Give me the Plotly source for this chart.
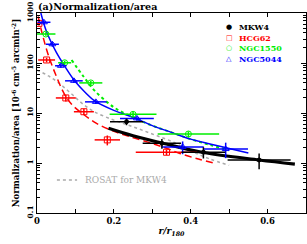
import plotly.graph_objects as go

# ---- data points (x = r/r180, y = normalization/area) ----
mkw4_x = [0.233, 0.325, 0.433, 0.578]
mkw4_y = [6.7, 2.48, 1.65, 1.15]
mkw4_xerr = [0.043, 0.05, 0.057, 0.082]
mkw4_yerr = [1.0, 0.55, 0.42, 0.4]

hcg62_x = [0.005, 0.025, 0.075, 0.122, 0.183, 0.337]
hcg62_y = [620, 115, 20, 10.6, 2.9, 1.64]
hcg62_xerr = [0.006, 0.022, 0.026, 0.026, 0.033, 0.08]
hcg62_yerr = [60, 12, 3, 1.5, 0.65, 0.2]

ngc1550_x = [0.023, 0.072, 0.14, 0.25, 0.394]
ngc1550_y = [380, 101, 40, 9.4, 3.8]
ngc1550_xerr = [0.025, 0.017, 0.03, 0.061, 0.08]
ngc1550_yerr = [30, 10, 4, 1.2, 0.5]

ngc5044_x = [0.018, 0.04, 0.062, 0.096, 0.153, 0.26, 0.379, 0.491]
ngc5044_y = [652, 237, 88, 44, 16.7, 7.8, 2.1, 1.9]
ngc5044_xerr = [0.017, 0.017, 0.015, 0.023, 0.028, 0.044, 0.055, 0.058]
ngc5044_yerr = [60, 25, 8, 4, 1.5, 0.8, 0.6, 0.65]

# ---- model curves ----
blue_cx = [0.01, 0.025, 0.05, 0.075, 0.1, 0.125, 0.15, 0.2, 0.25, 0.3, 0.35, 0.4, 0.45, 0.5, 0.55]
blue_cy = [1000, 420, 165, 80, 42, 26, 17.5, 11.3, 8.2, 5.6, 4.1, 3.0, 2.4, 1.95, 1.58]

green_cx = [0.09, 0.12, 0.15, 0.2, 0.25, 0.3, 0.35, 0.4, 0.45, 0.5]
green_cy = [115, 55, 28, 13, 8.2, 5.6, 4.1, 3.0, 2.3, 1.8]

red_cx = [0.003, 0.015, 0.03, 0.05, 0.07, 0.09, 0.12, 0.155, 0.2, 0.242, 0.3, 0.337, 0.372, 0.42, 0.46]
red_cy = [850, 350, 140, 55, 25, 15, 9.5, 6.2, 4.3, 3.36, 2.45, 1.97, 1.55, 1.2, 1.0]

black_cx = [0.186, 0.25, 0.33, 0.433, 0.578, 0.671]
black_cy = [4.94, 3.5, 2.45, 1.62, 1.15, 0.95]

rosat_cx = [0.0, 0.03, 0.06, 0.09, 0.12, 0.15, 0.2, 0.25, 0.3, 0.35, 0.4, 0.45, 0.5]
rosat_cy = [72, 55, 38, 24, 15, 10.5, 7.2, 5.3, 3.8, 2.7, 1.75, 1.2, 0.9]

x_tickvals = [0, 0.2, 0.4, 0.6]
x_ticktext = ["0", "0.2", "0.4", "0.6"]
y_tickvals = [0.1, 1, 10, 100, 1000]
y_ticktext = ["0.1", "1", "10", "100", "1000"]

legend_names = ["MKW4", "HCG62", "NGC1550", "NGC5044"]
legend_symbols = ["●", "□", "○", "△"]
legend_colors = ["black", "#ff0000", "#00ee00", "#0000ff"]

FONT = "DejaVu Serif"

fig = go.Figure()

# curves
fig.add_trace(go.Scatter(x=rosat_cx, y=rosat_cy, mode="lines", line=dict(color="#aaaaaa", width=1.5, dash="dot", shape="spline")))
fig.add_trace(go.Scatter(x=red_cx, y=red_cy, mode="lines", line=dict(color="#ff0000", width=1.5, dash="7px,4px", shape="spline")))
fig.add_trace(go.Scatter(x=green_cx, y=green_cy, mode="lines", line=dict(color="#00ee00", width=2, dash="dot", shape="spline")))
fig.add_trace(go.Scatter(x=blue_cx, y=blue_cy, mode="lines", line=dict(color="#0000ff", width=1.5, shape="spline")))
fig.add_trace(go.Scatter(x=black_cx, y=black_cy, mode="lines", line=dict(color="black", width=3.2, shape="spline")))

def pts(x, y, xe, ye, color, symbol, size):
    return go.Scatter(
        x=x, y=y, mode="markers",
        marker=dict(symbol=symbol, size=size, color=color, line=dict(color=color, width=1)),
        error_x=dict(type="data", array=xe, color=color, thickness=1.5, width=0),
        error_y=dict(type="data", array=ye, color=color, thickness=1.5, width=0),
    )

fig.add_trace(pts(hcg62_x, hcg62_y, hcg62_xerr, hcg62_yerr, "#ff0000", "square-open", 6))
fig.add_trace(pts(ngc1550_x, ngc1550_y, ngc1550_xerr, ngc1550_yerr, "#00ee00", "circle-open", 6))
fig.add_trace(pts(ngc5044_x, ngc5044_y, ngc5044_xerr, ngc5044_yerr, "#0000ff", "triangle-up-open", 6))
fig.add_trace(pts(mkw4_x, mkw4_y, mkw4_xerr, mkw4_yerr, "black", "circle", 4))

# legend (manual, compact)
rows_y = [0.93, 0.8775, 0.825, 0.77]
annotations = []
for name, sym, col, yy in zip(legend_names, legend_symbols, legend_colors, rows_y):
    annotations.append(dict(xref="paper", yref="paper", x=0.714, y=yy, text=sym, showarrow=False,
                            xanchor="center", yanchor="middle", font=dict(family=FONT, size=7, color=col)))
    annotations.append(dict(xref="paper", yref="paper", x=0.743, y=yy, text="<b>" + name + "</b>", showarrow=False,
                            xanchor="left", yanchor="middle", font=dict(family=FONT, size=8, color=col)))

annotations.append(dict(xref="paper", yref="paper", x=0.17, y=0.165, text="ROSAT for MKW4", showarrow=False,
                        xanchor="left", yanchor="middle", font=dict(family=FONT, size=9, color="#aaaaaa")))
annotations.append(dict(xref="paper", yref="paper", x=-0.005, y=1.035, text="<b>(a)Normalization/area</b>", showarrow=False,
                        xanchor="left", yanchor="middle", font=dict(family=FONT, size=9.6, color="black")))

fig.update_layout(
    width=307, height=244,
    margin=dict(l=37, r=1, t=13, b=31, autoexpand=False),
    paper_bgcolor="white", plot_bgcolor="white",
    showlegend=False,
    annotations=annotations,
    shapes=[dict(type="line", xref="paper", yref="paper", x0=0.074, x1=0.149, y0=0.165, y1=0.165,
                 line=dict(color="#aaaaaa", width=1.5, dash="dot"))],
    font=dict(family=FONT, color="black"),
)

fig.update_xaxes(
    range=[0, 0.7], showgrid=False, zeroline=False, automargin=False,
    showline=True, linecolor="black", linewidth=1.2, mirror="ticks",
    ticks="inside", ticklen=4, tickcolor="black",
    tickvals=x_tickvals, ticktext=x_ticktext,
    minor=dict(ticks="inside", ticklen=4, tickcolor="black", dtick=0.1, tick0=0, showgrid=False),
    tickfont=dict(family=FONT, size=8.5, color="black", weight="bold"),
    title=dict(text="<i>r/r</i><sub><i>180</i></sub>", font=dict(family=FONT, size=9, weight="bold"), standoff=2),
)
fig.update_yaxes(
    type="log", range=[-1, 3], showgrid=False, zeroline=False, automargin=False,
    showline=True, linecolor="black", linewidth=1.2, mirror="ticks",
    ticks="inside", ticklen=5, tickcolor="black",
    tickvals=y_tickvals, ticktext=y_ticktext, tickangle=-90,
    tickfont=dict(family=FONT, size=7.5, color="black", weight="bold"),
    minor=dict(ticks="inside", ticklen=2.5, tickcolor="black", dtick="D1", showgrid=False),
    title=dict(text="Normalization/area [10<sup>-6</sup> cm<sup>-5</sup> arcmin<sup>-2</sup>]",
               font=dict(family=FONT, size=8.5, weight="bold"), standoff=4),
)

fig.write_html("out.html", config={"displayModeBar": False},
               post_script="document.body.style.margin='0';document.body.style.padding='0';")
